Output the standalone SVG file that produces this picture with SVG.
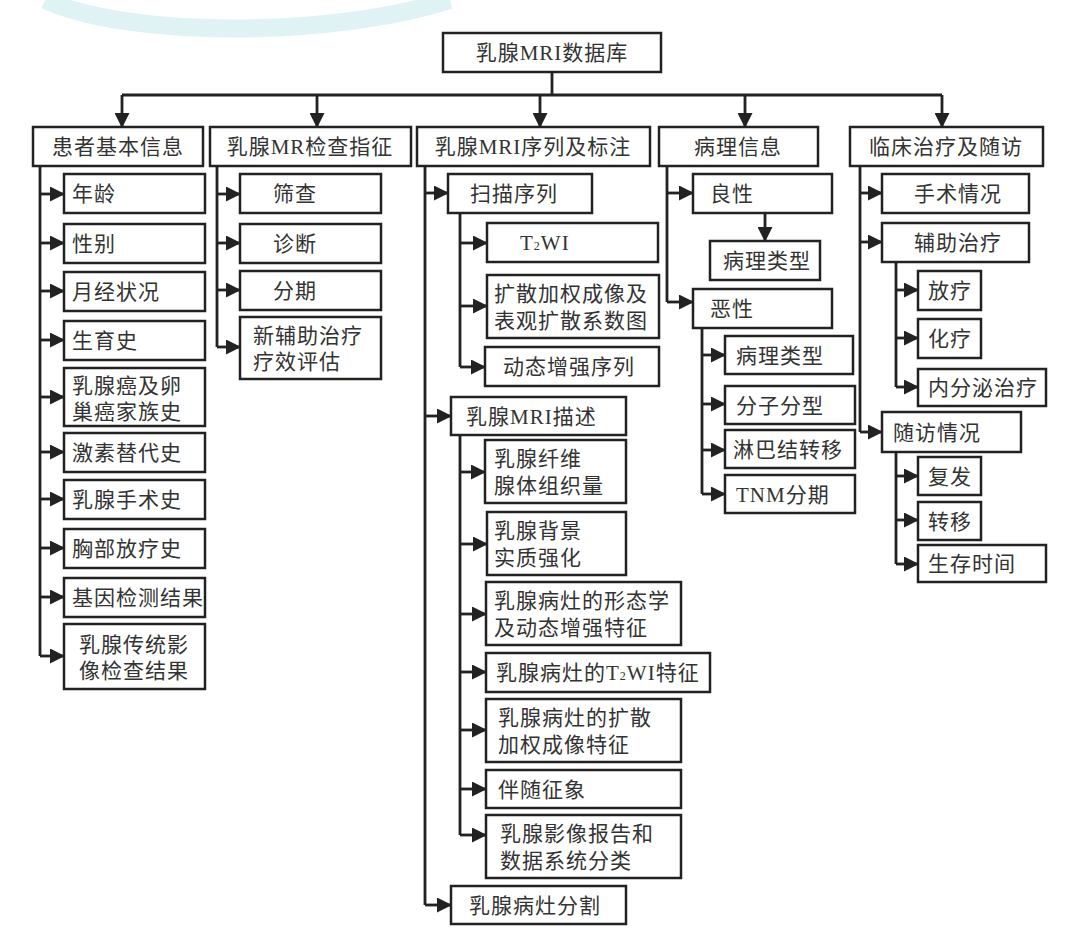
<svg xmlns="http://www.w3.org/2000/svg" width="1080" height="936" viewBox="0 0 1080 936">
<style>
.b{fill:#fff;stroke:#222;stroke-width:2.5}
.t{font-family:"Liberation Serif","Noto Sans CJK SC",serif;font-size:21px;fill:#333;letter-spacing:1px}
.c{text-anchor:middle}
.l{fill:none;stroke:#222;stroke-width:2.8}
.sub{font-size:12px}
</style>
<defs>
<marker id="ah" markerWidth="15" markerHeight="15" refX="14" refY="7.5" orient="auto" markerUnits="userSpaceOnUse"><path d="M0,0 L15,7.5 L0,15 z" fill="#222"/></marker>
</defs>
<rect width="1080" height="936" fill="#fff"/>
<path d="M45,0 C130,38 330,38 450,0" fill="none" stroke="#dff2f4" stroke-width="18"/>

<g id="connectors" class="l">
<path d="M552,72 V95 M122,95 H942" />
<path d="M122,95 V127" marker-end="url(#ah)"/>
<path d="M317,95 V127" marker-end="url(#ah)"/>
<path d="M540,95 V127" marker-end="url(#ah)"/>
<path d="M745,95 V127" marker-end="url(#ah)"/>
<path d="M942,95 V127" marker-end="url(#ah)"/>
<path d="M40,166 V656"/>
<path d="M40,194 H64" marker-end="url(#ah)"/>
<path d="M40,243 H64" marker-end="url(#ah)"/>
<path d="M40,291 H64" marker-end="url(#ah)"/>
<path d="M40,340 H64" marker-end="url(#ah)"/>
<path d="M40,397 H64" marker-end="url(#ah)"/>
<path d="M40,452 H64" marker-end="url(#ah)"/>
<path d="M40,499 H64" marker-end="url(#ah)"/>
<path d="M40,548 H64" marker-end="url(#ah)"/>
<path d="M40,597 H64" marker-end="url(#ah)"/>
<path d="M40,656 H64" marker-end="url(#ah)"/>
<path d="M217,166 V347"/>
<path d="M217,194 H240" marker-end="url(#ah)"/>
<path d="M217,243 H240" marker-end="url(#ah)"/>
<path d="M217,290 H240" marker-end="url(#ah)"/>
<path d="M217,347 H240" marker-end="url(#ah)"/>
<path d="M425,166 V905"/>
<path d="M425,193 H448" marker-end="url(#ah)"/>
<path d="M460,213 V367"/>
<path d="M460,243 H487" marker-end="url(#ah)"/>
<path d="M460,306 H487" marker-end="url(#ah)"/>
<path d="M460,367 H485" marker-end="url(#ah)"/>
<path d="M425,416 H451" marker-end="url(#ah)"/>
<path d="M460,435 V835"/>
<path d="M460,472 H485" marker-end="url(#ah)"/>
<path d="M460,544 H487" marker-end="url(#ah)"/>
<path d="M460,614 H486" marker-end="url(#ah)"/>
<path d="M460,672 H486" marker-end="url(#ah)"/>
<path d="M460,730 H486" marker-end="url(#ah)"/>
<path d="M460,789 H486" marker-end="url(#ah)"/>
<path d="M460,835 H486" marker-end="url(#ah)"/>
<path d="M425,905 H451" marker-end="url(#ah)"/>
<path d="M667,166 V302"/>
<path d="M667,193 H693" marker-end="url(#ah)"/>
<path d="M765,213 V241" marker-end="url(#ah)"/>
<path d="M667,302 H693" marker-end="url(#ah)"/>
<path d="M702,328 V494"/>
<path d="M702,355 H725" marker-end="url(#ah)"/>
<path d="M702,404 H725" marker-end="url(#ah)"/>
<path d="M702,450 H725" marker-end="url(#ah)"/>
<path d="M702,494 H725" marker-end="url(#ah)"/>
<path d="M860,166 V432"/>
<path d="M860,193 H882" marker-end="url(#ah)"/>
<path d="M860,242 H882" marker-end="url(#ah)"/>
<path d="M896,262 V387"/>
<path d="M896,290 H918" marker-end="url(#ah)"/>
<path d="M896,338 H918" marker-end="url(#ah)"/>
<path d="M896,387 H918" marker-end="url(#ah)"/>
<path d="M860,432 H882" marker-end="url(#ah)"/>
<path d="M896,452 V564"/>
<path d="M896,476 H918" marker-end="url(#ah)"/>
<path d="M896,520 H918" marker-end="url(#ah)"/>
<path d="M896,564 H918" marker-end="url(#ah)"/>
</g>

<g id="root"><rect class="b" x="443" y="33" width="218" height="39"/><text class="t c" x="552" y="60">乳腺MRI数据库</text></g>

<g id="n-patient"><rect class="b" x="33" y="127" width="170" height="39"/><text class="t c" x="118" y="154">患者基本信息</text></g>
<g id="n-indication"><rect class="b" x="210" y="127" width="201" height="39"/><text class="t c" x="310" y="154">乳腺MR检查指征</text></g>
<g id="n-sequence"><rect class="b" x="417" y="127" width="233" height="39"/><text class="t c" x="533" y="154">乳腺MRI序列及标注</text></g>
<g id="n-pathology"><rect class="b" x="659" y="127" width="159" height="39"/><text class="t c" x="738" y="154">病理信息</text></g>
<g id="n-clinical"><rect class="b" x="850" y="127" width="193" height="39"/><text class="t c" x="946" y="154">临床治疗及随访</text></g>

<g id="n-age"><rect class="b" x="64" y="174" width="141" height="39"/><text class="t" x="72" y="201">年龄</text></g>
<g id="n-sex"><rect class="b" x="64" y="224" width="141" height="39"/><text class="t" x="72" y="251">性别</text></g>
<g id="n-menses"><rect class="b" x="64" y="272" width="141" height="39"/><text class="t" x="72" y="299">月经状况</text></g>
<g id="n-birth"><rect class="b" x="64" y="321" width="141" height="39"/><text class="t" x="72" y="348">生育史</text></g>
<g id="n-family"><rect class="b" x="64" y="368" width="141" height="58"/><text class="t" x="72" y="393">乳腺癌及卵</text><text class="t" x="72" y="419">巢癌家族史</text></g>
<g id="n-hormone"><rect class="b" x="64" y="433" width="141" height="39"/><text class="t" x="72" y="460">激素替代史</text></g>
<g id="n-surgery"><rect class="b" x="64" y="480" width="141" height="39"/><text class="t" x="72" y="507">乳腺手术史</text></g>
<g id="n-radio"><rect class="b" x="64" y="529" width="141" height="39"/><text class="t" x="72" y="556">胸部放疗史</text></g>
<g id="n-gene"><rect class="b" x="64" y="578" width="141" height="39"/><text class="t" x="72" y="605">基因检测结果</text></g>
<g id="n-imaging"><rect class="b" x="64" y="624" width="141" height="65"/><text class="t" x="79" y="652">乳腺传统影</text><text class="t" x="79" y="678">像检查结果</text></g>

<g id="n-screen"><rect class="b" x="240" y="174" width="141" height="39"/><text class="t" x="273" y="201">筛查</text></g>
<g id="n-diag"><rect class="b" x="240" y="224" width="141" height="39"/><text class="t" x="273" y="251">诊断</text></g>
<g id="n-stage"><rect class="b" x="240" y="271" width="141" height="39"/><text class="t" x="273" y="298">分期</text></g>
<g id="n-neo"><rect class="b" x="240" y="317" width="141" height="62"/><text class="t" x="253" y="343">新辅助治疗</text><text class="t" x="253" y="369">疗效评估</text></g>

<g id="n-scan"><rect class="b" x="448" y="174" width="144" height="39"/><text class="t" x="470" y="201">扫描序列</text></g>
<g id="n-t2wi"><rect class="b" x="487" y="223" width="171" height="39"/><text class="t" x="520" y="250">T<tspan class="sub">2</tspan>WI</text></g>
<g id="n-dwi"><rect class="b" x="487" y="275" width="172" height="63"/><text class="t" x="494" y="301">扩散加权成像及</text><text class="t" x="494" y="328">表观扩散系数图</text></g>
<g id="n-dce"><rect class="b" x="485" y="347" width="174" height="39"/><text class="t" x="503" y="374">动态增强序列</text></g>
<g id="n-desc"><rect class="b" x="451" y="397" width="175" height="38"/><text class="t" x="466" y="424">乳腺MRI描述</text></g>
<g id="n-fgt"><rect class="b" x="485" y="440" width="141" height="63"/><text class="t" x="494" y="466">乳腺纤维</text><text class="t" x="494" y="493">腺体组织量</text></g>
<g id="n-bpe"><rect class="b" x="487" y="512" width="139" height="63"/><text class="t" x="494" y="538">乳腺背景</text><text class="t" x="494" y="565">实质强化</text></g>
<g id="n-morph"><rect class="b" x="486" y="582" width="195" height="63"/><text class="t" x="494" y="608">乳腺病灶的形态学</text><text class="t" x="494" y="635">及动态增强特征</text></g>
<g id="n-lt2"><rect class="b" x="486" y="653" width="224" height="39"/><text class="t" x="496" y="680">乳腺病灶的T<tspan class="sub">2</tspan>WI特征</text></g>
<g id="n-ldwi"><rect class="b" x="486" y="699" width="195" height="63"/><text class="t" x="498" y="725">乳腺病灶的扩散</text><text class="t" x="498" y="752">加权成像特征</text></g>
<g id="n-assoc"><rect class="b" x="486" y="770" width="195" height="38"/><text class="t" x="498" y="797">伴随征象</text></g>
<g id="n-birads"><rect class="b" x="486" y="815" width="195" height="63"/><text class="t" x="500" y="841">乳腺影像报告和</text><text class="t" x="500" y="868">数据系统分类</text></g>
<g id="n-seg"><rect class="b" x="451" y="886" width="175" height="38"/><text class="t" x="469" y="913">乳腺病灶分割</text></g>

<g id="n-benign"><rect class="b" x="693" y="174" width="139" height="39"/><text class="t" x="710" y="201">良性</text></g>
<g id="n-btype"><rect class="b" x="710" y="241" width="110" height="39"/><text class="t" x="723" y="268">病理类型</text></g>
<g id="n-malig"><rect class="b" x="693" y="289" width="139" height="39"/><text class="t" x="710" y="316">恶性</text></g>
<g id="n-mtype"><rect class="b" x="725" y="336" width="128" height="38"/><text class="t" x="736" y="363">病理类型</text></g>
<g id="n-mol"><rect class="b" x="725" y="386" width="130" height="38"/><text class="t" x="736" y="413">分子分型</text></g>
<g id="n-lymph"><rect class="b" x="725" y="430" width="130" height="38"/><text class="t" x="733" y="457">淋巴结转移</text></g>
<g id="n-tnm"><rect class="b" x="725" y="475" width="130" height="38"/><text class="t" x="736" y="502">TNM分期</text></g>

<g id="n-op"><rect class="b" x="882" y="174" width="147" height="39"/><text class="t" x="914" y="201">手术情况</text></g>
<g id="n-adj"><rect class="b" x="882" y="223" width="147" height="39"/><text class="t" x="914" y="250">辅助治疗</text></g>
<g id="n-rt"><rect class="b" x="918" y="271" width="63" height="39"/><text class="t" x="928" y="298">放疗</text></g>
<g id="n-ct"><rect class="b" x="918" y="319" width="63" height="39"/><text class="t" x="928" y="346">化疗</text></g>
<g id="n-endo"><rect class="b" x="918" y="369" width="128" height="37"/><text class="t" x="928" y="395">内分泌治疗</text></g>
<g id="n-fu"><rect class="b" x="882" y="412" width="139" height="40"/><text class="t" x="893" y="440">随访情况</text></g>
<g id="n-rec"><rect class="b" x="918" y="457" width="63" height="38"/><text class="t" x="928" y="484">复发</text></g>
<g id="n-met"><rect class="b" x="918" y="502" width="63" height="38"/><text class="t" x="928" y="529">转移</text></g>
<g id="n-surv"><rect class="b" x="918" y="545" width="128" height="37"/><text class="t" x="928" y="571">生存时间</text></g>
</svg>
